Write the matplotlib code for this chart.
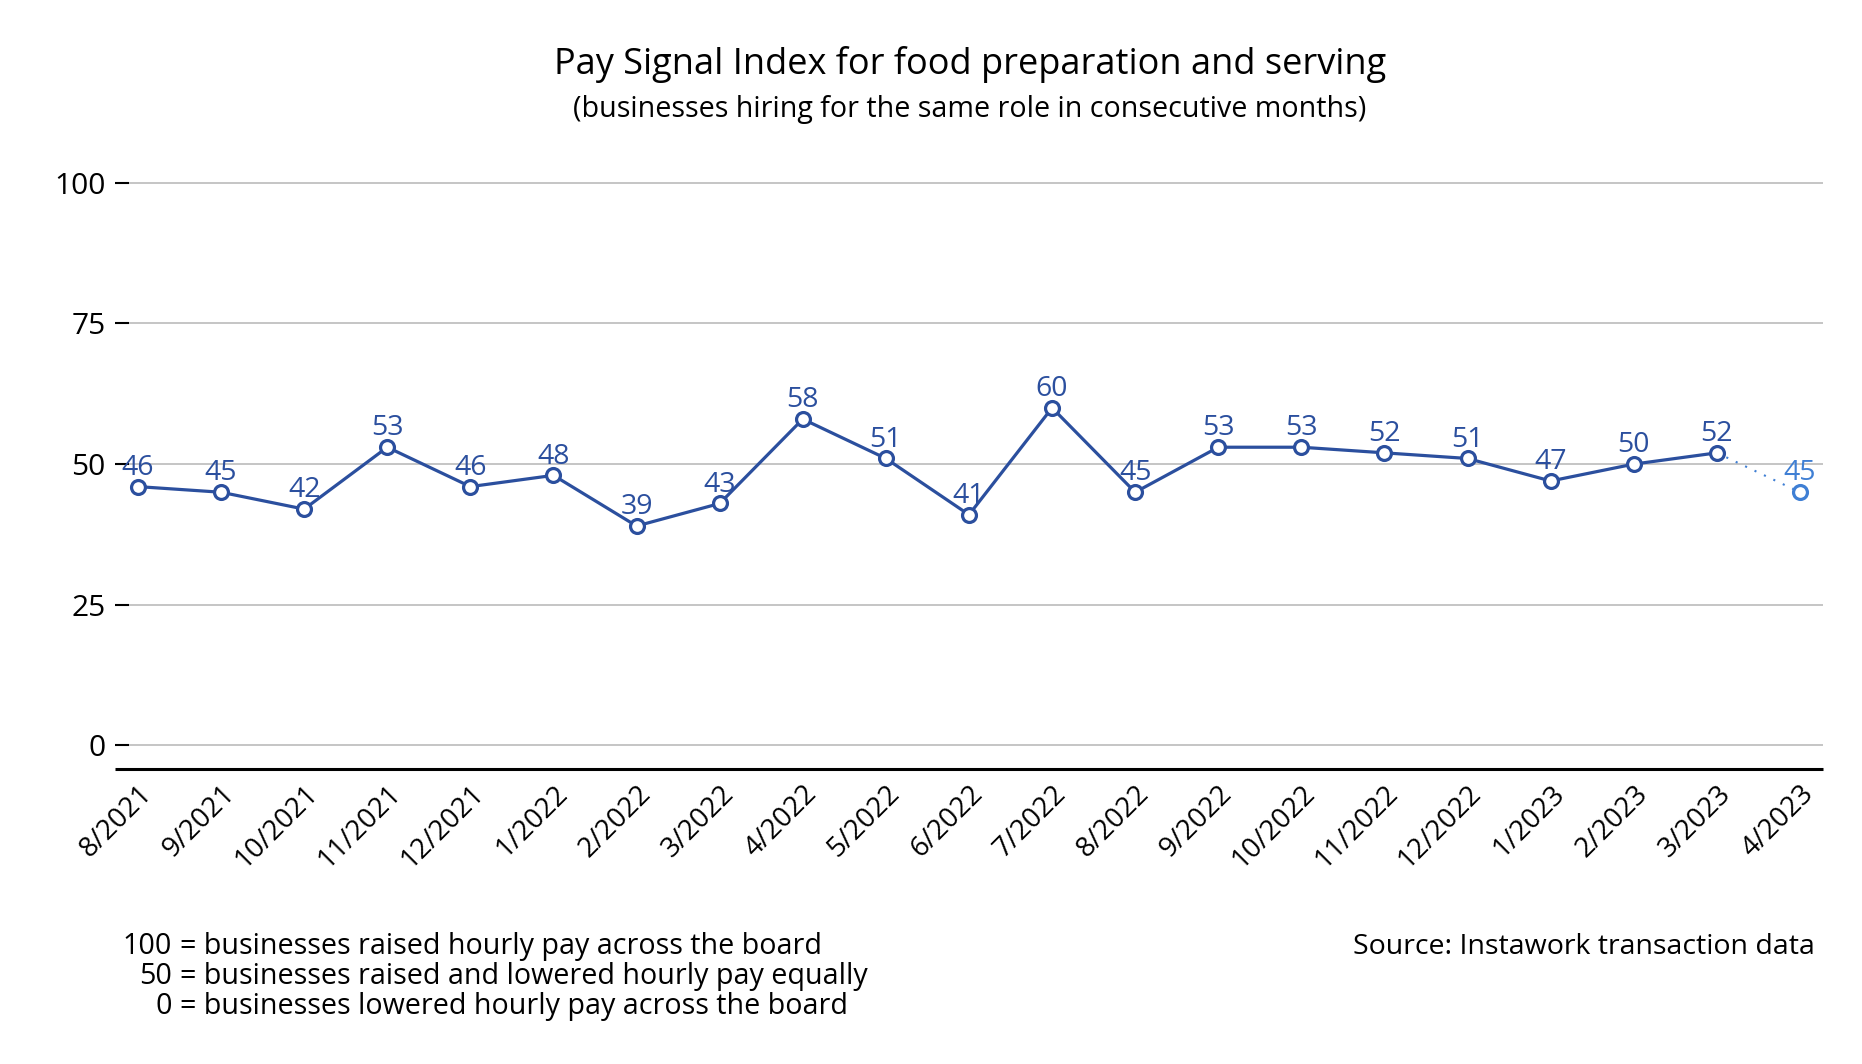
import matplotlib
matplotlib.use("Agg")
import matplotlib.pyplot as plt

plt.rcParams['font.family'] = ['Open Sans', 'DejaVu Sans']

months = ["8/2021", "9/2021", "10/2021", "11/2021", "12/2021", "1/2022", "2/2022",
          "3/2022", "4/2022", "5/2022", "6/2022", "7/2022", "8/2022", "9/2022",
          "10/2022", "11/2022", "12/2022", "1/2023", "2/2023", "3/2023", "4/2023"]
values = [46, 45, 42, 53, 46, 48, 39, 43, 58, 51, 41, 60, 45, 53, 53, 52, 51, 47, 50, 52, 45]
yticks = [0, 25, 50, 75, 100]

main_color = "#2b4f9e"
prelim_color = "#3f7fd4"

W, H = 1862, 1064
ax_l, ax_r, ax_t, ax_b = 129, 1823, 181.6, 769
fig = plt.figure(figsize=(W/100, H/100), dpi=100)
ax = fig.add_axes([ax_l/W, 1 - ax_b/H, (ax_r-ax_l)/W, (ax_b-ax_t)/H])

x = list(range(len(values)))
ax.plot(x[:-1], values[:-1], color=main_color, lw=2.3, marker='o', ms=10,
        mfc='white', mec=main_color, mew=2.3, zorder=3)
ax.plot(x[-2:], values[-2:], color=prelim_color, lw=1.5, ls=(0, (1, 4)), zorder=2)
ax.plot(x[-1:], values[-1:], color=prelim_color, lw=0, marker='o', ms=10,
        mfc='white', mec=prelim_color, mew=2.3, zorder=3)

for i, v in enumerate(values):
    c = prelim_color if i == len(values) - 1 else main_color
    ax.annotate(str(v), (i, v), xytext=(0, 8.5), textcoords='offset points',
                ha='center', va='baseline', fontsize=20.5, color=c, zorder=4)

ax.set_xlim(-0.108, 20.277)
ax.set_ylim(-4.18, 100.2)
ax.set_yticks(yticks)
ax.set_yticklabels([str(t) for t in yticks], fontsize=21.5)
ax.set_xticks(x)
ax.set_xticklabels(months, rotation=45, ha='right', rotation_mode='anchor', fontsize=20)
ax.tick_params(axis='y', length=10, width=1.5, pad=7, color='black')
ax.tick_params(axis='x', length=0, pad=8)
ax.grid(axis='y', color='#c0c0c0', lw=1.3)
ax.set_axisbelow(True)
for s in ['left', 'right', 'top', 'bottom']:
    ax.spines[s].set_visible(False)
ext = 14 / (ax_r - ax_l)
ax.plot([-ext, 1], [0, 0], transform=ax.transAxes, color='black', lw=2.2,
        clip_on=False, solid_capstyle='butt', zorder=5)

cx = ((ax_l + ax_r) / 2 - 6) / W
fig.text(cx, 1 - 74/H, "Pay Signal Index for food preparation and serving",
         ha='center', va='baseline', fontsize=26)
fig.text(cx, 1 - 117/H, "(businesses hiring for the same role in consecutive months)",
         ha='center', va='baseline', fontsize=20.6)

notes = [("100", "= businesses raised hourly pay across the board"),
         ("50", "= businesses raised and lowered hourly pay equally"),
         ("0", "= businesses lowered hourly pay across the board")]
for k, (num, txt) in enumerate(notes):
    yy = 1 - (954 + 30 * k) / H
    fig.text(172/W, yy, num, ha='right', va='baseline', fontsize=20.6)
    fig.text(180/W, yy, txt, ha='left', va='baseline', fontsize=20.6)
fig.text(1815/W, 1 - 954/H, "Source: Instawork transaction data",
         ha='right', va='baseline', fontsize=20.5)

fig.savefig("out.png", dpi=100, facecolor='white')
